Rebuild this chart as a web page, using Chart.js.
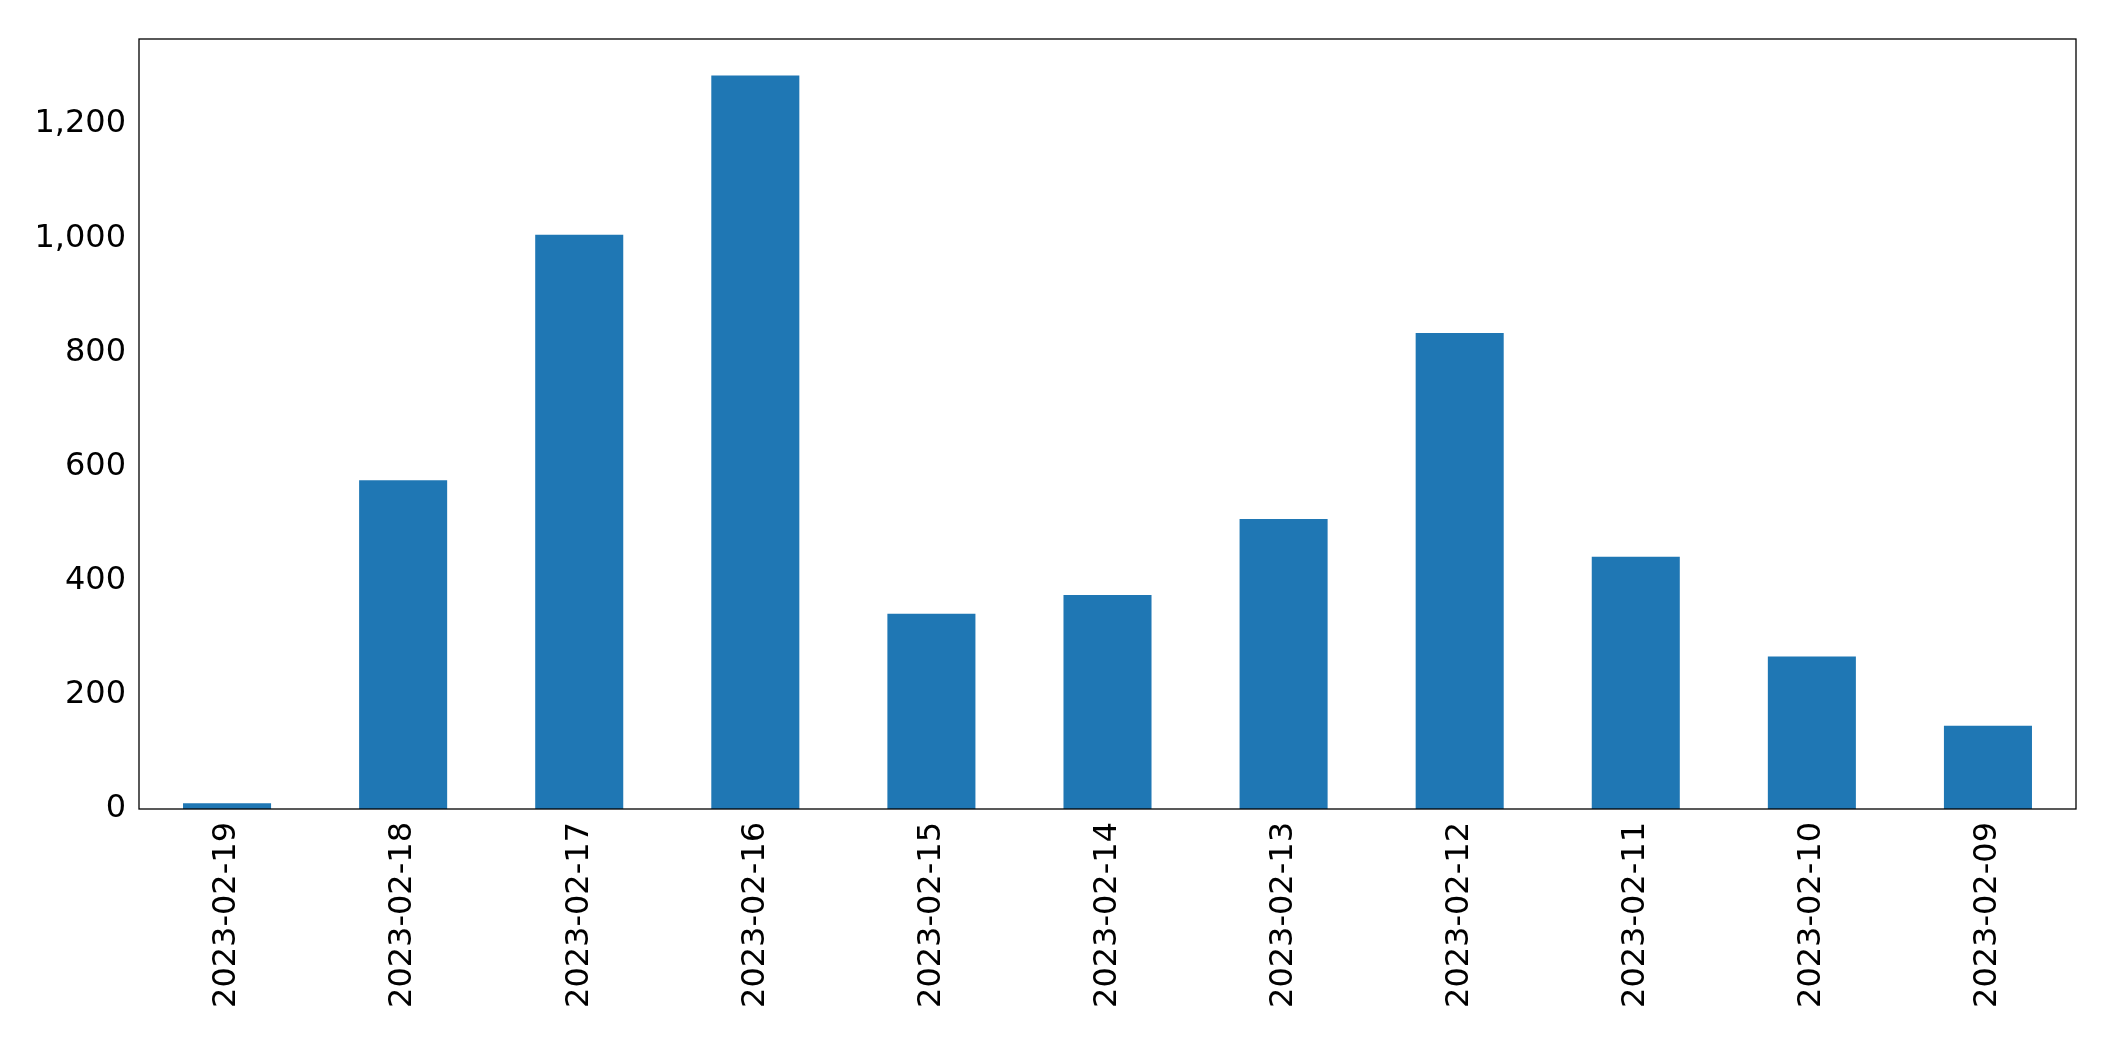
<!DOCTYPE html>
<html>
<head>
<script src="https://cdn.jsdelivr.net/npm/chart.js@4.4.0/dist/chart.umd.min.js"></script>
<style>
html, body { margin: 0; padding: 0; background: white; }
#wrap { width: 2115px; height: 1061px; }
</style>
</head>
<body>
<div id="wrap"><canvas id="chart"></canvas></div>
<script>
const dates = ["2023-02-19", "2023-02-18", "2023-02-17", "2023-02-16", "2023-02-15", "2023-02-14",
    "2023-02-13", "2023-02-12", "2023-02-11", "2023-02-10", "2023-02-09"];
const counts = [10, 576, 1006, 1285, 342, 375, 508, 834, 442, 267, 146];
const yTicks = [0, 200, 400, 600, 800, 1000, 1200];

// frame around the plot area, like matplotlib
const frame = {
    id: "frame",
    afterDraw(chart) {
        const a = chart.chartArea;
        const ctx = chart.ctx;
        ctx.save();
        ctx.strokeStyle = "black";
        ctx.lineWidth = 1.3;
        ctx.strokeRect(a.left, a.top, a.right - a.left, a.bottom - a.top);
        ctx.restore();
    }
};

new Chart(document.getElementById("chart"), {
    type: "bar",
    data: {
        labels: dates,
        datasets: [{
            data: counts,
            backgroundColor: "#1f77b4",
            categoryPercentage: 1.0,
            barPercentage: 0.5
        }]
    },
    options: {
        responsive: true,
        maintainAspectRatio: false,
        animation: false,
        layout: { padding: { top: 39, right: 39, left: 0, bottom: 0 } },
        plugins: { legend: { display: false }, tooltip: { enabled: false } },
        scales: {
            x: {
                grid: { display: false, drawTicks: true, tickLength: 10, tickColor: "black" },
                border: { display: false },
                ticks: {
                    color: "black",
                    font: { family: "DejaVu Sans", size: 32 },
                    maxRotation: 90, minRotation: 90,
                    autoSkip: false
                },
                afterFit(axis) { axis.height = 252; }
            },
            y: {
                min: 0,
                max: 1349,
                grid: { display: false, drawTicks: true, tickLength: 10, tickColor: "black" },
                border: { display: false },
                afterBuildTicks(axis) { axis.ticks = yTicks.map(v => ({ value: v })); },
                ticks: {
                    color: "black",
                    font: { family: "DejaVu Sans", size: 32 }
                },
                afterFit(axis) { axis.width = 139; }
            }
        }
    },
    plugins: [frame]
});
</script>
</body>
</html>
